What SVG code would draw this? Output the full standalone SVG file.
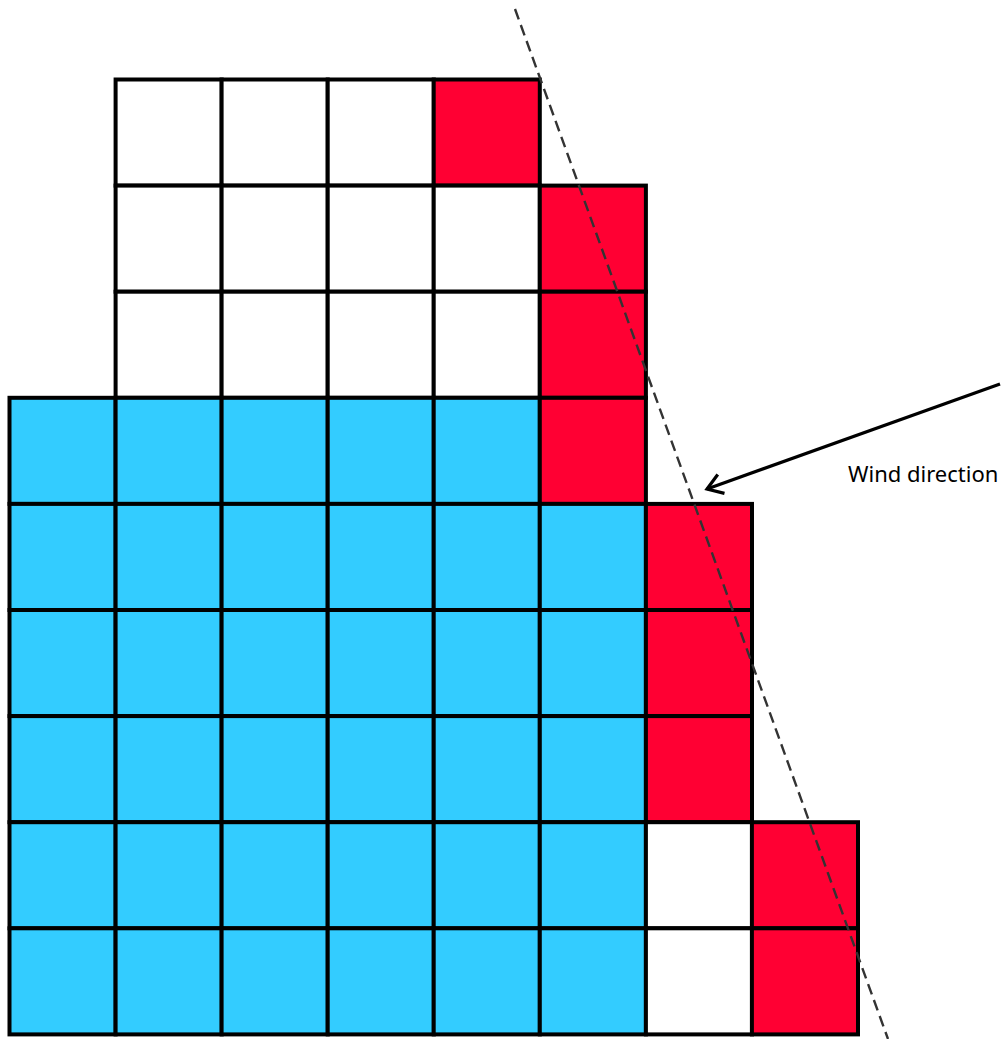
<svg xmlns="http://www.w3.org/2000/svg" width="1007" height="1039" viewBox="0 0 1007 1039">
<style>
.c{stroke:#000;stroke-width:4}
.w{fill:#fff}
.b{fill:#33CCFF}
.r{fill:#FF0033}
.lbl{font-family:"Noto Sans","Open Sans",sans-serif;font-size:22px;fill:#000}
</style>
<defs>
<marker id="ah" markerUnits="userSpaceOnUse" markerWidth="40" markerHeight="40" refX="0" refY="0" viewBox="-20 -20 40 40" orient="auto">
<path d="M-15,-10 L0,0 L-15,10" fill="none" stroke="#000" stroke-width="3.2"/>
</marker>
</defs>
<rect width="1007" height="1039" fill="#fff"/>
<g id="cells">
<rect id="r0c1" class="c w" x="115.6" y="79.5" width="106.1" height="106.1"/>
<rect id="r0c2" class="c w" x="221.6" y="79.5" width="106.1" height="106.1"/>
<rect id="r0c3" class="c w" x="327.7" y="79.5" width="106.1" height="106.1"/>
<rect id="r0c4" class="c r" x="433.7" y="79.5" width="106.1" height="106.1"/>
<rect id="r1c1" class="c w" x="115.6" y="185.6" width="106.1" height="106.1"/>
<rect id="r1c2" class="c w" x="221.6" y="185.6" width="106.1" height="106.1"/>
<rect id="r1c3" class="c w" x="327.7" y="185.6" width="106.1" height="106.1"/>
<rect id="r1c4" class="c w" x="433.7" y="185.6" width="106.1" height="106.1"/>
<rect id="r1c5" class="c r" x="539.8" y="185.6" width="106.1" height="106.1"/>
<rect id="r2c1" class="c w" x="115.6" y="291.7" width="106.1" height="106.1"/>
<rect id="r2c2" class="c w" x="221.6" y="291.7" width="106.1" height="106.1"/>
<rect id="r2c3" class="c w" x="327.7" y="291.7" width="106.1" height="106.1"/>
<rect id="r2c4" class="c w" x="433.7" y="291.7" width="106.1" height="106.1"/>
<rect id="r2c5" class="c r" x="539.8" y="291.7" width="106.1" height="106.1"/>
<rect id="r3c0" class="c b" x="9.5" y="397.8" width="106.1" height="106.1"/>
<rect id="r3c1" class="c b" x="115.6" y="397.8" width="106.1" height="106.1"/>
<rect id="r3c2" class="c b" x="221.6" y="397.8" width="106.1" height="106.1"/>
<rect id="r3c3" class="c b" x="327.7" y="397.8" width="106.1" height="106.1"/>
<rect id="r3c4" class="c b" x="433.7" y="397.8" width="106.1" height="106.1"/>
<rect id="r3c5" class="c r" x="539.8" y="397.8" width="106.1" height="106.1"/>
<rect id="r4c0" class="c b" x="9.5" y="503.9" width="106.1" height="106.1"/>
<rect id="r4c1" class="c b" x="115.6" y="503.9" width="106.1" height="106.1"/>
<rect id="r4c2" class="c b" x="221.6" y="503.9" width="106.1" height="106.1"/>
<rect id="r4c3" class="c b" x="327.7" y="503.9" width="106.1" height="106.1"/>
<rect id="r4c4" class="c b" x="433.7" y="503.9" width="106.1" height="106.1"/>
<rect id="r4c5" class="c b" x="539.8" y="503.9" width="106.1" height="106.1"/>
<rect id="r4c6" class="c r" x="645.9" y="503.9" width="106.1" height="106.1"/>
<rect id="r5c0" class="c b" x="9.5" y="610" width="106.1" height="106.1"/>
<rect id="r5c1" class="c b" x="115.6" y="610" width="106.1" height="106.1"/>
<rect id="r5c2" class="c b" x="221.6" y="610" width="106.1" height="106.1"/>
<rect id="r5c3" class="c b" x="327.7" y="610" width="106.1" height="106.1"/>
<rect id="r5c4" class="c b" x="433.7" y="610" width="106.1" height="106.1"/>
<rect id="r5c5" class="c b" x="539.8" y="610" width="106.1" height="106.1"/>
<rect id="r5c6" class="c r" x="645.9" y="610" width="106.1" height="106.1"/>
<rect id="r6c0" class="c b" x="9.5" y="716.1" width="106.1" height="106.1"/>
<rect id="r6c1" class="c b" x="115.6" y="716.1" width="106.1" height="106.1"/>
<rect id="r6c2" class="c b" x="221.6" y="716.1" width="106.1" height="106.1"/>
<rect id="r6c3" class="c b" x="327.7" y="716.1" width="106.1" height="106.1"/>
<rect id="r6c4" class="c b" x="433.7" y="716.1" width="106.1" height="106.1"/>
<rect id="r6c5" class="c b" x="539.8" y="716.1" width="106.1" height="106.1"/>
<rect id="r6c6" class="c r" x="645.9" y="716.1" width="106.1" height="106.1"/>
<rect id="r7c0" class="c b" x="9.5" y="822.2" width="106.1" height="106.1"/>
<rect id="r7c1" class="c b" x="115.6" y="822.2" width="106.1" height="106.1"/>
<rect id="r7c2" class="c b" x="221.6" y="822.2" width="106.1" height="106.1"/>
<rect id="r7c3" class="c b" x="327.7" y="822.2" width="106.1" height="106.1"/>
<rect id="r7c4" class="c b" x="433.7" y="822.2" width="106.1" height="106.1"/>
<rect id="r7c5" class="c b" x="539.8" y="822.2" width="106.1" height="106.1"/>
<rect id="r7c6" class="c w" x="645.9" y="822.2" width="106.1" height="106.1"/>
<rect id="r7c7" class="c r" x="751.9" y="822.2" width="106.1" height="106.1"/>
<rect id="r8c0" class="c b" x="9.5" y="928.3" width="106.1" height="106.1"/>
<rect id="r8c1" class="c b" x="115.6" y="928.3" width="106.1" height="106.1"/>
<rect id="r8c2" class="c b" x="221.6" y="928.3" width="106.1" height="106.1"/>
<rect id="r8c3" class="c b" x="327.7" y="928.3" width="106.1" height="106.1"/>
<rect id="r8c4" class="c b" x="433.7" y="928.3" width="106.1" height="106.1"/>
<rect id="r8c5" class="c b" x="539.8" y="928.3" width="106.1" height="106.1"/>
<rect id="r8c6" class="c w" x="645.9" y="928.3" width="106.1" height="106.1"/>
<rect id="r8c7" class="c r" x="751.9" y="928.3" width="106.1" height="106.1"/>
</g>
<g id="connectors">
<line id="front" x1="515" y1="9" x2="888" y2="1039" stroke="#333" stroke-width="2.4" stroke-dasharray="11,6"/>
<line id="wind" x1="1000" y1="384" x2="707" y2="489" stroke="#000" stroke-width="3.2" marker-end="url(#ah)"/>
</g>
<g id="label">
<text class="lbl" x="848" y="482">Wind direction</text>
</g>
</svg>
